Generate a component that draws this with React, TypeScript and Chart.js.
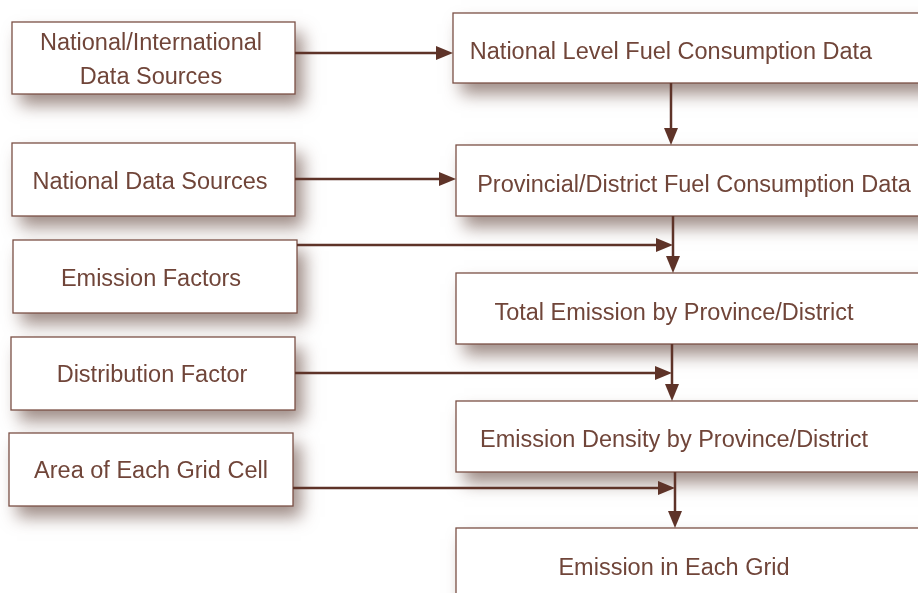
import React, { useEffect, useRef } from "react";
import { Chart, registerables } from "chart.js";

Chart.register(...registerables);

// Flowchart nodes (coordinates in the chart's own data units, 0..918 x 0..593)
const nodeLabels: string[][] = [
  ["National/International", "Data Sources"],
  ["National Data Sources"],
  ["Emission Factors"],
  ["Distribution Factor"],
  ["Area of Each Grid Cell"],
  ["National Level Fuel Consumption Data"],
  ["Provincial/District Fuel Consumption Data"],
  ["Total Emission by Province/District"],
  ["Emission Density by Province/District"],
  ["Emission in Each Grid"],
];
const nodeLeft = [12, 12, 13, 11, 9, 453, 456, 456, 456, 456];
const nodeTop = [22, 143, 240, 337, 433, 13, 145, 273, 401, 528];
const nodeRight = [295, 295, 297, 295, 293, 940, 940, 940, 940, 940];
const nodeBottom = [94, 216, 313, 410, 506, 83, 216, 344, 472, 620];
const labelX = [151, 150, 151, 152, 151, 671, 694, 674, 674, 674];
const labelBaseline: number[][] = [[50, 84], [189], [286], [382], [478], [59], [192], [320], [447], [575]];

// Arrows (start -> tip)
const arrowX0 = [295, 671, 295, 297, 673, 672, 295, 675, 293];
const arrowY0 = [53, 83, 179, 245, 216, 344, 373, 472, 488];
const arrowX1 = [453, 671, 456, 673, 673, 672, 672, 675, 675];
const arrowY1 = [53, 145, 179, 245, 273, 401, 373, 528, 488];

const LINE = "#5e3328";
const BORDER = "#7b5046";
const TEXT = "#704539";
const FONT = '23.5px "Liberation Sans", Arial, sans-serif';

const flowPlugin = {
  id: "flow",
  afterDraw(chart: any) {
    const ctx = chart.ctx as CanvasRenderingContext2D;
    const xs = chart.scales.x;
    const ys = chart.scales.y;
    const px = (v: number) => xs.getPixelForValue(v);
    const py = (v: number) => ys.getPixelForValue(v);
    ctx.save();
    // shadows
    for (let i = 0; i < nodeLabels.length; i++) {
      const x0 = px(nodeLeft[i]), y0 = py(nodeTop[i]);
      const x1 = px(nodeRight[i]), y1 = py(nodeBottom[i]);
      ctx.save();
      ctx.shadowColor = "rgba(95,65,55,0.6)";
      ctx.shadowBlur = 16;
      ctx.shadowOffsetX = 8;
      ctx.shadowOffsetY = 11;
      ctx.fillStyle = "#ffffff";
      ctx.fillRect(x0, y0, x1 - x0, y1 - y0);
      ctx.restore();
    }
    // fills + borders + text
    for (let i = 0; i < nodeLabels.length; i++) {
      const x0 = px(nodeLeft[i]), y0 = py(nodeTop[i]);
      const x1 = px(nodeRight[i]), y1 = py(nodeBottom[i]);
      ctx.fillStyle = "#ffffff";
      ctx.fillRect(x0, y0, x1 - x0, y1 - y0);
    }
    for (let i = 0; i < nodeLabels.length; i++) {
      const x0 = px(nodeLeft[i]), y0 = py(nodeTop[i]);
      const x1 = px(nodeRight[i]), y1 = py(nodeBottom[i]);
      ctx.strokeStyle = BORDER;
      ctx.lineWidth = 1.3;
      ctx.strokeRect(x0, y0, x1 - x0, y1 - y0);
      ctx.fillStyle = TEXT;
      ctx.font = FONT;
      ctx.textAlign = "center";
      ctx.textBaseline = "alphabetic";
      nodeLabels[i].forEach((line, j) => {
        ctx.fillText(line, px(labelX[i]), py(labelBaseline[i][j]));
      });
    }
    // arrows
    const head = 17, half = 7;
    for (let i = 0; i < arrowX0.length; i++) {
      const sx = px(arrowX0[i]), sy = py(arrowY0[i]);
      const tx = px(arrowX1[i]), ty = py(arrowY1[i]);
      const ang = Math.atan2(ty - sy, tx - sx);
      const bx = tx - Math.cos(ang) * head;
      const by = ty - Math.sin(ang) * head;
      ctx.strokeStyle = LINE;
      ctx.lineWidth = 2.5;
      ctx.beginPath();
      ctx.moveTo(sx, sy);
      ctx.lineTo(bx + Math.cos(ang) * 2, by + Math.sin(ang) * 2);
      ctx.stroke();
      ctx.fillStyle = LINE;
      ctx.beginPath();
      ctx.moveTo(tx, ty);
      ctx.lineTo(bx - Math.sin(ang) * half, by + Math.cos(ang) * half);
      ctx.lineTo(bx + Math.sin(ang) * half, by - Math.cos(ang) * half);
      ctx.closePath();
      ctx.fill();
    }
    ctx.restore();
  },
};

export default function App() {
  const ref = useRef<HTMLCanvasElement | null>(null);
  useEffect(() => {
    document.body.style.margin = "0";
    document.body.style.background = "#ffffff";
    if (!ref.current) return;
    const centers = nodeLabels.map((_, i) => ({
      x: (nodeLeft[i] + nodeRight[i]) / 2,
      y: (nodeTop[i] + nodeBottom[i]) / 2,
    }));
    const chart = new Chart(ref.current, {
      type: "scatter",
      data: {
        datasets: [
          {
            label: "nodes",
            data: centers,
            pointRadius: 0,
            pointHoverRadius: 0,
          },
        ],
      },
      options: {
        animation: false,
        responsive: false,
        maintainAspectRatio: false,
        layout: { padding: 0 },
        events: [],
        plugins: {
          legend: { display: false },
          tooltip: { enabled: false },
          title: { display: false },
        },
        scales: {
          x: { type: "linear", min: 0, max: 918, display: false },
          y: { type: "linear", min: 0, max: 593, reverse: true, display: false },
        },
      },
      plugins: [flowPlugin],
    });
    return () => chart.destroy();
  }, []);
  return (
    <div style={{ width: 918, height: 593, background: "#fff" }}>
      <canvas ref={ref} width={918} height={593} style={{ display: "block" }} />
    </div>
  );
}
